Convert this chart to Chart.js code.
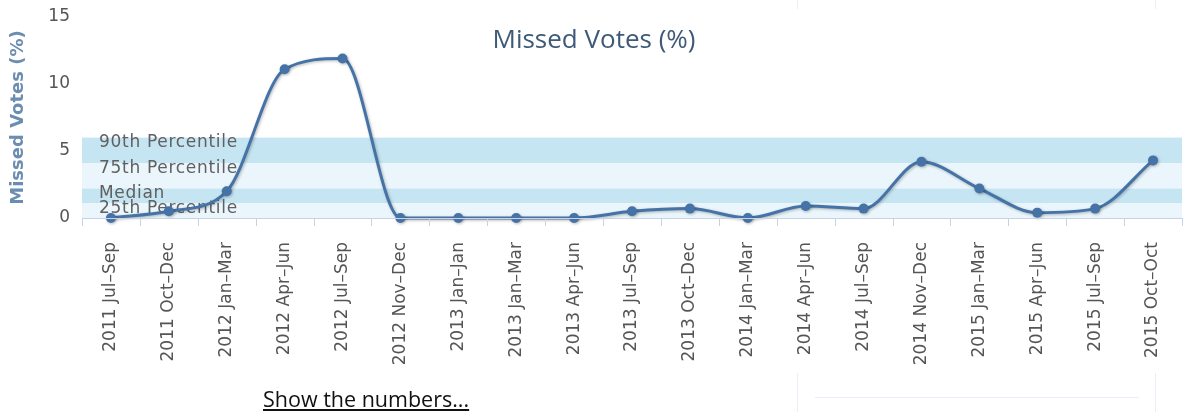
<!DOCTYPE html>
<html>
<head>
<meta charset="utf-8">
<script src="https://cdn.jsdelivr.net/npm/chart.js@4"></script>
<style>
  html, body { margin: 0; padding: 0; background: #fff; }
  body { width: 1187px; height: 412px; position: relative; overflow: hidden; font-family: "Open Sans", sans-serif; }
  #wrap { position: absolute; left: 0; top: 0; width: 1187px; height: 412px; }
  .faint { position: absolute; background: #e8eff8; }
  #more { position: absolute; left: 263px; top: 385px; font-size: 21.5px; line-height: 28px; color: #111; text-decoration: underline; }
</style>
</head>
<body>
<div class="faint" style="left:797px;top:0;width:1px;height:9px"></div>
<div class="faint" style="left:1155px;top:0;width:1px;height:9px"></div>
<div class="faint" style="left:797px;top:373px;width:1px;height:39px"></div>
<div class="faint" style="left:1155px;top:373px;width:1px;height:39px"></div>
<div class="faint" style="left:815px;top:397px;width:324px;height:1px"></div>
<div id="wrap"><canvas id="canvas"></canvas></div>
<div id="more">Show the numbers...</div>
<script>
var quarters = ["2011 Jul–Sep", "2011 Oct–Dec", "2012 Jan–Mar", "2012 Apr–Jun", "2012 Jul–Sep",
    "2012 Nov–Dec", "2013 Jan–Jan", "2013 Jan–Mar", "2013 Apr–Jun", "2013 Jul–Sep", "2013 Oct–Dec",
    "2014 Jan–Mar", "2014 Apr–Jun", "2014 Jul–Sep", "2014 Nov–Dec", "2015 Jan–Mar", "2015 Apr–Jun",
    "2015 Jul–Sep", "2015 Oct–Oct"];
var missed = [0, 0.5, 2.0, 11.1, 11.9, 0, 0, 0, 0, 0.5, 0.7, 0, 0.9, 0.7, 4.2, 2.2, 0.4, 0.7, 4.3];

// percentile bands: label and upper edge, each band runs down to the next one
var bandNames = ["90th Percentile", "75th Percentile", "Median", "25th Percentile"];
var bandTops = [6.0, 4.1, 2.2, 1.1];
var bandColors = ["#c6e5f2", "#eaf6fb", "#c6e5f2", "#eaf6fb"];

let canvas = document.getElementById("canvas");
let ctx = canvas.getContext("2d");

//bands behind the line, labels on top of the bands
const bandsPlugin = {
    id: "bands",
    beforeDatasetsDraw(chart) {
        const c = chart.ctx, area = chart.chartArea, y = chart.scales.y;
        c.save();
        for (let i = 0; i < bandTops.length; i++) {
            let lo = i + 1 < bandTops.length ? bandTops[i + 1] : 0;
            let top = y.getPixelForValue(bandTops[i]);
            let bot = y.getPixelForValue(lo);
            c.fillStyle = bandColors[i];
            c.fillRect(area.left, top, area.right - area.left, bot - top);
        }
        c.font = "17px 'DejaVu Sans'";
        c.letterSpacing = "0.7px";
        c.fillStyle = "#606060";
        c.textBaseline = "alphabetic";
        for (let i = 0; i < bandTops.length; i++) {
            c.fillText(bandNames[i], area.left + 17, y.getPixelForValue(bandTops[i]) + 9.5);
        }
        c.restore();
    },
    beforeDatasetDraw(chart) {
        const c = chart.ctx;
        c.save();
        c.shadowColor = "rgba(0,0,0,0.28)";
        c.shadowBlur = 3;
        c.shadowOffsetX = 1;
        c.shadowOffsetY = 1;
    },
    afterDatasetDraw(chart) {
        chart.ctx.restore();
    },
    afterDraw(chart) {
        const c = chart.ctx;
        c.save();
        // chart title sits over the plot, like the original
        c.font = "26px 'Open Sans'";
        c.fillStyle = "#3e5a78";
        c.textAlign = "center";
        c.textBaseline = "alphabetic";
        c.fillText("Missed Votes (%)", 594, 48);
        // axis line + category ticks
        const area = chart.chartArea;
        c.strokeStyle = "#c8d4e6";
        c.lineWidth = 1;
        c.beginPath();
        c.moveTo(area.left, area.bottom + 0.5);
        c.lineTo(area.right, area.bottom + 0.5);
        for (let i = 0; i <= quarters.length; i++) {
            let px = Math.round(area.left + (area.right - area.left) * i / quarters.length) + 0.5;
            c.moveTo(px, area.bottom);
            c.lineTo(px, area.bottom + 8);
        }
        c.stroke();
        c.restore();
    }
};

new Chart(ctx, {
    type: "line",
    data: {
        labels: quarters,
        datasets: [{
            label: "Missed Votes (%)",
            data: missed,
            borderColor: "#4572a7",
            backgroundColor: "#4572a7",
            borderWidth: 3,
            pointRadius: 5,
            pointHoverRadius: 5,
            pointBorderWidth: 0,
            cubicInterpolationMode: "monotone",
            clip: false
        }]
    },
    options: {
        responsive: true,
        maintainAspectRatio: false,
        animation: false,
        events: [],
        layout: { padding: { top: 17, right: 0, bottom: 0, left: 0 } },
        plugins: {
            legend: { display: false },
            title: { display: false },
            tooltip: { enabled: false }
        },
        scales: {
            x: {
                offset: true,
                grid: { display: false },
                border: { display: false },
                ticks: {
                    autoSkip: false,
                    maxRotation: 90,
                    minRotation: 90,
                    padding: 16,
                    color: "#555555",
                    font: { family: "'DejaVu Sans'", size: 17 }
                },
                afterFit: function(s) {
                    s.height = 194;
                    s.paddingLeft = 0;
                    s.paddingRight = 0;
                }
            },
            y: {
                min: 0,
                max: 15,
                grid: { display: false, drawTicks: false },
                border: { display: false },
                ticks: {
                    stepSize: 5,
                    padding: 12,
                    color: "#555555",
                    font: { family: "'DejaVu Sans'", size: 17 }
                },
                title: {
                    display: true,
                    text: "Missed Votes (%)",
                    color: "#6b8db0",
                    font: { family: "'DejaVu Sans'", size: 18, weight: "bold" },
                    padding: { top: 8, bottom: 0 }
                },
                afterFit: function(s) {
                    s.width = 82;
                    s.paddingTop = 0;
                    s.paddingBottom = 0;
                }
            }
        }
    },
    plugins: [bandsPlugin]
});
</script>
</body>
</html>
